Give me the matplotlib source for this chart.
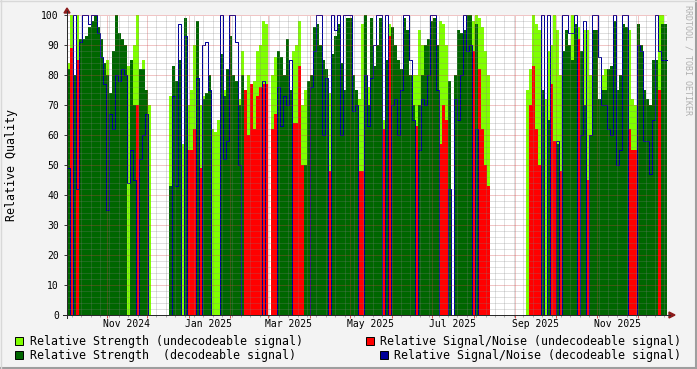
import numpy as np
import pandas as pd
import matplotlib
matplotlib.use("Agg")
import matplotlib.pyplot as plt
import matplotlib.dates as mdates
from matplotlib.ticker import MultipleLocator, NullFormatter
from matplotlib.patches import Rectangle, Polygon
from matplotlib.lines import Line2D

W, H = 697, 369

# one sample every ~2.2 days, from early Oct 2024 to late Dec 2025
t_start = pd.Timestamp("2024-10-02 12:00")
t_step = pd.Timedelta(hours=53.57)

# relative strength, undecodeable signal
sig_undec = [84, 100, 0, 100, 0, 0, 0, 0, 0, 0,
             0, 0, 0, 85, 0, 78, 100, 0, 0, 0,
             83, 82, 90, 100, 0, 85, 72, 70, 0, 0,
             0, 0, 0, 0, 73, 0, 72, 0, 57, 65,
             70, 75, 90, 78, 70, 73, 0, 70, 62, 61,
             65, 0, 75, 70, 80, 0, 0, 72, 88, 70,
             80, 75, 78, 88, 90, 98, 97, 0, 80, 86,
             80, 0, 60, 60, 0, 88, 90, 98, 70, 75,
             72, 0, 0, 0, 0, 0, 0, 74, 0, 0,
             0, 0, 0, 0, 0, 0, 0, 72, 97, 80,
             76, 0, 0, 0, 0, 65, 80, 97, 0, 0,
             0, 65, 0, 0, 0, 80, 80, 95, 90, 0,
             0, 0, 0, 0, 98, 97, 90, 0, 0, 0,
             0, 0, 0, 0, 0, 98, 100, 99, 96, 88,
             80, 0, 0, 0, 0, 0, 0, 0, 0, 0,
             0, 0, 0, 75, 82, 100, 97, 95, 0, 72,
             88, 90, 100, 95, 80, 0, 0, 0, 100, 0,
             96, 70, 95, 95, 80, 0, 0, 0, 80, 82,
             0, 0, 0, 0, 0, 0, 0, 95, 72, 70,
             0, 0, 0, 0, 0, 0, 0, 100, 100, 0]

# relative signal/noise, undecodeable signal
snr_undec = [0, 89, 0, 85, 0, 0, 0, 0, 0, 0,
             0, 0, 0, 0, 0, 0, 0, 0, 0, 0,
             0, 0, 0, 70, 0, 0, 0, 0, 0, 0,
             0, 0, 0, 0, 0, 0, 0, 0, 0, 0,
             55, 55, 62, 0, 49, 0, 0, 0, 0, 0,
             0, 0, 0, 0, 0, 0, 0, 0, 0, 75,
             60, 77, 62, 73, 76, 77, 77, 0, 62, 67,
             0, 0, 0, 0, 0, 64, 64, 83, 50, 45,
             75, 0, 0, 0, 0, 0, 0, 48, 0, 0,
             0, 0, 0, 0, 0, 0, 0, 48, 48, 0,
             0, 0, 0, 0, 0, 62, 0, 93, 0, 0,
             0, 0, 0, 0, 0, 0, 63, 0, 0, 0,
             0, 0, 0, 0, 57, 70, 65, 0, 0, 0,
             0, 0, 0, 0, 0, 88, 0, 82, 62, 50,
             43, 0, 0, 0, 0, 0, 0, 0, 0, 0,
             0, 0, 0, 0, 70, 83, 62, 50, 0, 0,
             0, 77, 58, 50, 48, 0, 0, 0, 0, 0,
             92, 0, 0, 45, 55, 0, 0, 0, 0, 0,
             0, 0, 0, 0, 0, 0, 0, 62, 55, 55,
             0, 0, 0, 0, 0, 0, 0, 75, 0, 0]

# relative strength, decodeable signal
sig_dec = [82, 0, 80, 0, 92, 92, 93, 96, 98, 100,
           96, 92, 84, 80, 74, 88, 100, 94, 92, 90,
           0, 85, 70, 0, 82, 82, 75, 0, 0, 0,
           0, 0, 0, 0, 43, 83, 78, 85, 0, 99,
           0, 0, 0, 98, 0, 72, 74, 80, 0, 0,
           0, 87, 73, 82, 93, 80, 78, 70, 80, 0,
           0, 0, 0, 0, 0, 0, 0, 0, 0, 0,
           88, 86, 80, 92, 75, 0, 0, 0, 0, 50,
           78, 80, 96, 97, 90, 85, 82, 0, 87, 93,
           97, 84, 75, 99, 99, 80, 75, 0, 0, 100,
           70, 99, 83, 90, 99, 0, 85, 0, 96, 90,
           85, 82, 99, 95, 80, 70, 0, 70, 80, 90,
           92, 98, 99, 90, 0, 0, 0, 78, 0, 80,
           95, 94, 95, 100, 100, 0, 97, 0, 0, 0,
           0, 0, 0, 0, 0, 0, 0, 0, 0, 0,
           0, 0, 0, 0, 0, 0, 0, 0, 75, 0,
           65, 0, 0, 57, 0, 88, 95, 90, 85, 97,
           0, 88, 70, 0, 60, 95, 95, 72, 75, 75,
           82, 83, 98, 75, 80, 97, 96, 0, 0, 0,
           97, 90, 75, 72, 70, 85, 85, 0, 97, 97]

# relative signal/noise, decodeable signal
snr_dec = [49, 0, 100, 42, 91, 100, 100, 97, 100, 100,
           94, 86, 77, 35, 67, 62, 80, 78, 82, 80,
           44, 55, 45, 0, 52, 60, 67, 0, 0, 0,
           0, 0, 0, 0, 0, 73, 43, 97, 0, 93,
           0, 0, 0, 79, 0, 90, 91, 75, 0, 0,
           0, 100, 52, 58, 100, 100, 91, 50, 0, 0,
           0, 0, 0, 0, 0, 78, 0, 0, 0, 0,
           76, 63, 73, 70, 85, 0, 0, 0, 0, 0,
           0, 76, 88, 100, 100, 60, 79, 0, 100, 95,
           100, 60, 100, 100, 100, 68, 70, 0, 0, 80,
           63, 79, 90, 100, 100, 0, 100, 0, 70, 72,
           60, 75, 100, 100, 85, 65, 0, 55, 72, 70,
           80, 100, 100, 75, 0, 0, 0, 42, 0, 72,
           65, 80, 100, 88, 90, 0, 62, 0, 0, 0,
           0, 0, 0, 0, 0, 0, 0, 0, 0, 0,
           0, 0, 0, 0, 0, 0, 0, 0, 100, 0,
           100, 0, 0, 58, 0, 100, 100, 94, 94, 100,
           0, 60, 98, 0, 60, 100, 100, 86, 70, 70,
           62, 60, 100, 50, 55, 100, 100, 0, 0, 0,
           90, 88, 58, 58, 47, 65, 100, 88, 85, 85]

month_labels = ["Nov 2024", "Jan 2025", "Mar 2025", "May 2025",
                "Jul 2025", "Sep 2025", "Nov 2025"]

legend_left = ["Relative Strength (undecodeable signal)",
               "Relative Strength  (decodeable signal)"]
legend_right = ["Relative Signal/Noise (undecodeable signal)",
                "Relative Signal/Noise (decodeable signal)"]

c_sig_undec = "#80ff00"
c_snr_undec = "#ff0000"
c_sig_dec = "#006600"
c_snr_dec = "#000099"


def fx(px):
    return px / W


def fy(py):
    return 1 - py / H


def ext(v):
    v = np.asarray(v, dtype=float)
    return np.append(v, v[-1])


plt.rcParams["font.family"] = "DejaVu Sans Mono"

fig = plt.figure(figsize=(W / 100, H / 100), dpi=100, facecolor="#f3f3f3")
ax = fig.add_axes([fx(67), fy(315), 600 / W, 300 / H])
ax.set_facecolor("white")
for s in ax.spines.values():
    s.set_visible(False)

edges = pd.date_range(t_start, periods=len(sig_dec) + 1, freq=t_step)
x = mdates.date2num(edges.to_pydatetime())

ax.fill_between(x, 0, ext(sig_undec), step="post", color=c_sig_undec, lw=0, zorder=1)
ax.fill_between(x, 0, ext(snr_undec), step="post", color=c_snr_undec, lw=0, zorder=1.1)
ax.fill_between(x, 0, ext(sig_dec), step="post", color=c_sig_dec, lw=0, zorder=1.2)
ax.step(x, ext(snr_dec), where="post", color=c_snr_dec, lw=0.72, zorder=1.3, clip_on=False)

ax.set_xlim(x[0], x[-1])
ax.set_ylim(0, 100)

# grid on top of the data, like rrdtool
ax.set_axisbelow(False)
ax.xaxis.set_major_locator(mdates.MonthLocator())
ax.xaxis.set_minor_locator(mdates.WeekdayLocator(byweekday=mdates.SU))
ax.xaxis.set_major_formatter(NullFormatter())
ax.yaxis.set_major_locator(MultipleLocator(10))
ax.yaxis.set_minor_locator(MultipleLocator(2))
ax.grid(which="minor", color="#808080", alpha=0.5, lw=0.72, ls=(0, (1, 1)))
ax.grid(which="major", color="#d04040", alpha=0.6, lw=0.72, ls=(0, (1, 1)))

ax.tick_params(axis="x", which="major", length=2.5, width=0.72, color="#de5050")
ax.tick_params(axis="x", which="minor", length=1.5, width=0.72, color="#aaaaaa")
ax.tick_params(axis="y", which="major", length=2.2, width=0.72, color="#404040",
               labelsize=7, pad=3.6)
ax.tick_params(axis="y", which="minor", length=0)

for lbl in month_labels:
    t = pd.to_datetime(lbl, format="%b %Y") + pd.Timedelta(days=15)
    ax.text(mdates.date2num(t.to_pydatetime()), -0.03, lbl,
            transform=ax.get_xaxis_transform(), ha="center", va="center",
            fontsize=7, color="black")

# axes with arrows
axis_col = "#2a2a2a"
arrow_col = "#8b1a1a"
fig.add_artist(Line2D([fx(67), fx(67)], [fy(318), fy(11)], color=axis_col, lw=0.72))
fig.add_artist(Line2D([fx(63), fx(670)], [fy(315), fy(315)], color=axis_col, lw=0.72))
fig.add_artist(Polygon([[fx(64), fy(13)], [fx(70), fy(13)], [fx(67), fy(8)]],
                       closed=True, color=arrow_col, transform=fig.transFigure))
fig.add_artist(Polygon([[fx(669), fy(312)], [fx(669), fy(318)], [fx(675), fy(315)]],
                       closed=True, color=arrow_col, transform=fig.transFigure))

fig.text(fx(12), fy(165), "Relative Quality", rotation=90, ha="center",
         va="center", fontsize=8.35)
fig.text(fx(688), fy(5), "RRDTOOL / TOBI OETIKER", rotation=270, ha="center",
         va="top", fontsize=6, color="#b0b0b0")

# legend
rows = [341, 355]
for i, (lbl, col) in enumerate(zip(legend_left, [c_sig_undec, c_sig_dec])):
    fig.add_artist(Rectangle((fx(15), fy(rows[i] + 4)), 8 / W, 8 / H,
                             facecolor=col, edgecolor="black", lw=0.7,
                             transform=fig.transFigure))
    fig.text(fx(30), fy(rows[i]), lbl, ha="left", va="center", fontsize=8.35)
box_x = [366, 380]
for i, (lbl, col) in enumerate(zip(legend_right, [c_snr_undec, c_snr_dec])):
    fig.add_artist(Rectangle((fx(box_x[i]), fy(rows[i] + 4)), 8 / W, 8 / H,
                             facecolor=col, edgecolor="black", lw=0.7,
                             transform=fig.transFigure))
    fig.text(fx(box_x[i] + 14), fy(rows[i]), lbl, ha="left", va="center", fontsize=8.35)

# frame shading
fig.add_artist(Line2D([0, 1], [fy(368), fy(368)], color="#9e9e9e", lw=1.5))
fig.add_artist(Line2D([fx(696), fx(696)], [0, 1], color="#9e9e9e", lw=1.5))
fig.add_artist(Line2D([0, 1], [fy(0.5), fy(0.5)], color="#d8d8d8", lw=1))
fig.add_artist(Line2D([fx(0.5), fx(0.5)], [0, 1], color="#d8d8d8", lw=1))

fig.savefig("out.png", dpi=100, facecolor=fig.get_facecolor())
